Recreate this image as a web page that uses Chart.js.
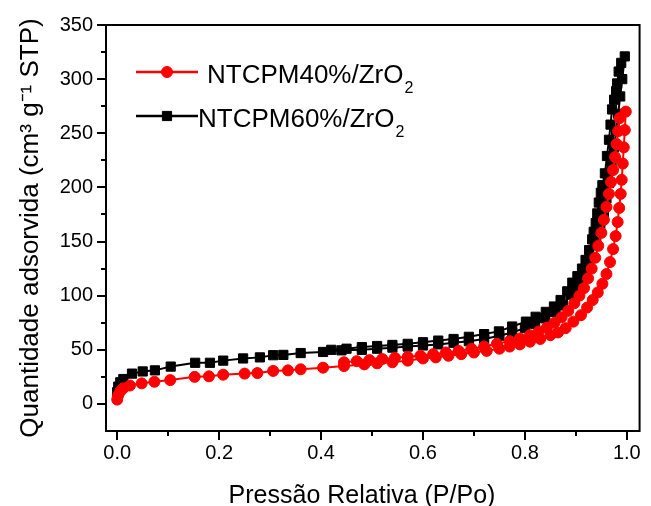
<!DOCTYPE html>
<html>
<head>
<meta charset="utf-8">
<script src="https://cdn.jsdelivr.net/npm/chart.js@4/dist/chart.umd.min.js"></script>
<style>
html,body{margin:0;padding:0;background:#ffffff;}
#wrap{width:651px;height:506px;position:relative;}
</style>
</head>
<body>
<div id="wrap"><canvas id="c" width="651" height="506"></canvas></div>
<script>
// ---- tick labels ----
const xTickValues = [0, 0.2, 0.4, 0.6, 0.8, 1.0];
const xTickLabels = ['0.0', '0.2', '0.4', '0.6', '0.8', '1.0'];
const xMinorTicks = [0.1, 0.3, 0.5, 0.7, 0.9];
const yTickValues = [0, 50, 100, 150, 200, 250, 300, 350];
const yTickLabels = ['0', '50', '100', '150', '200', '250', '300', '350'];
const yMinorTicks = [25, 75, 125, 175, 225, 275, 325];

// ---- series names ----
const seriesNames = ['NTCPM40%/ZrO', 'NTCPM60%/ZrO'];
const seriesSubscripts = ['2', '2'];
const xAxisTitle = 'Pressão Relativa (P/Po)';
const yAxisTitle = 'Quantidade adsorvida (cm³ g⁻¹ STP)';

// ---- NTCPM40%/ZrO2 (red): adsorption then desorption ----
const red40AdsX = [0,0.002,0.006,0.012,0.025,0.048,0.073,0.104,0.152,0.18,0.208,0.25,0.275,0.306,0.335,0.36,0.404,0.445,0.485,0.51,0.54,0.57,0.60,0.625,0.65,0.675,0.70,0.725,0.75,0.77,0.79,0.81,0.83,0.85,0.865,0.88,0.895,0.91,0.922,0.933,0.943,0.952,0.96,0.967,0.973,0.978,0.982,0.985,0.988,0.99,0.992,0.994,0.996,0.998];
const red40AdsY = [4,8,11.5,14.5,17,19,20.5,22,25,25.5,27,28,28.5,30.5,31,32,33.5,35,36.5,37.5,38.5,40,42,43,44.5,46,47.5,49,51,53,55,57.5,60,63.5,66,70,76,82,89,96,103,111,120,131,143,155,168,181,194,207,222,237,253,270];
const red40DesX = [0.986,0.983,0.98,0.977,0.973,0.969,0.965,0.96,0.955,0.95,0.944,0.938,0.931,0.924,0.916,0.907,0.897,0.885,0.872,0.858,0.843,0.827,0.81,0.79,0.77,0.745,0.72,0.695,0.67,0.645,0.62,0.595,0.57,0.545,0.52,0.495,0.47,0.445];
const red40DesY = [264,252,240,228,216,205,194,182,170,158,146,135,125,116,107,100,93,86,80,75,70.5,67,63.5,60.5,58,55.5,53,51,49,47.5,46,44.5,43.5,42.5,41.5,40.5,39.5,38.5];

// ---- NTCPM60%/ZrO2 (black): adsorption then desorption ----
const black60AdsX = [0,0.002,0.006,0.012,0.029,0.05,0.074,0.105,0.153,0.182,0.208,0.247,0.28,0.306,0.326,0.36,0.404,0.44,0.48,0.51,0.54,0.57,0.60,0.63,0.66,0.69,0.72,0.75,0.775,0.80,0.82,0.84,0.86,0.875,0.89,0.90,0.91,0.92,0.93,0.94,0.948,0.955,0.96,0.965,0.97,0.975,0.979,0.983,0.987,0.991,0.996];
const black60AdsY = [11,16,20,23,28,30,31,34.5,38,38,40,42,43,45,45.3,47,48,49.5,50,51,52,53,54,55,56.5,58,60,63,66,70,74,79,85,91,101,107,114,123,135,150,163,177,190,204,220,237,252,268,284,300,321];
const black60DesX = [0.989,0.984,0.981,0.979,0.975,0.971,0.968,0.965,0.961,0.957,0.952,0.949,0.945,0.942,0.939,0.935,0.932,0.926,0.919,0.912,0.903,0.893,0.883,0.870,0.857,0.841,0.821,0.802,0.775,0.749,0.72,0.69,0.66,0.63,0.60,0.57,0.54,0.51,0.48,0.45,0.42];
const black60DesY = [315,307,296,289,281,272,258,244,229,213,202,195,186,176,167,159,152,142,133,125,118,112,104,96,90,85,80.5,76,71.5,67,64.5,62,60,58.5,57,55.5,54.5,53.5,52.5,51,50];

function zip(xs, ys) { return xs.map((x, i) => ({ x: x, y: ys[i] })); }

const FONT = "'Liberation Sans', Arial, sans-serif";

const frameTicksPlugin = {
  id: 'frameTicks',
  afterDraw(chart) {
    const ctx = chart.ctx;
    const a = chart.chartArea;
    const xs = chart.scales.x, ys = chart.scales.y;
    ctx.save();
    ctx.strokeStyle = '#000';
    ctx.lineWidth = 2;
    ctx.strokeRect(a.left, a.top, a.right - a.left, a.bottom - a.top);
    ctx.beginPath();
    xTickValues.forEach(v => { const p = Math.round(xs.getPixelForValue(v)); ctx.moveTo(p, a.bottom); ctx.lineTo(p, a.bottom + 9); });
    xMinorTicks.forEach(v => { const p = Math.round(xs.getPixelForValue(v)); ctx.moveTo(p, a.bottom); ctx.lineTo(p, a.bottom + 5); });
    yTickValues.forEach(v => { const p = Math.round(ys.getPixelForValue(v)); ctx.moveTo(a.left, p); ctx.lineTo(a.left - 9, p); });
    yMinorTicks.forEach(v => { const p = Math.round(ys.getPixelForValue(v)); ctx.moveTo(a.left, p); ctx.lineTo(a.left - 5, p); });
    ctx.stroke();
    // x axis title
    ctx.fillStyle = '#000';
    ctx.font = '25px ' + FONT;
    ctx.textAlign = 'center';
    ctx.textBaseline = 'alphabetic';
    ctx.fillText(xAxisTitle, 362, 503);
    ctx.restore();
  }
};

const legendPlugin = {
  id: 'customLegend',
  afterDraw(chart) {
    const ctx = chart.ctx;
    const items = [
      { ds: chart.data.datasets[0], y: 72, textX: 207 },
      { ds: chart.data.datasets[1], y: 116, textX: 198 }
    ];
    ctx.save();
    items.forEach((it, i) => {
      const ds = it.ds;
      ctx.strokeStyle = ds.borderColor;
      ctx.lineWidth = 2.5;
      ctx.beginPath();
      ctx.moveTo(136, it.y);
      ctx.lineTo(198, it.y);
      ctx.stroke();
      ctx.fillStyle = ds.pointBackgroundColor;
      ctx.strokeStyle = ds.pointBorderColor;
      ctx.lineWidth = 1;
      Chart.helpers.drawPoint(ctx, {
        pointStyle: ds.pointStyle, radius: ds.pointRadius, borderWidth: 1
      }, 167, it.y);
      ctx.fillStyle = '#000';
      ctx.textAlign = 'left';
      ctx.textBaseline = 'alphabetic';
      ctx.font = '26px ' + FONT;
      ctx.fillText(seriesNames[i], it.textX, it.y + 11);
      const w = ctx.measureText(seriesNames[i]).width;
      ctx.font = '16px ' + FONT;
      ctx.fillText(seriesSubscripts[i], it.textX + w + 1, it.y + 21);
    });
    ctx.restore();
  }
};

const chart = new Chart(document.getElementById('c'), {
  type: 'scatter',
  data: {
    datasets: [
      {
        label: seriesNames[0] + '₂',
        data: zip(red40AdsX.concat(red40DesX), red40AdsY.concat(red40DesY)),
        showLine: true,
        borderColor: '#ff0000',
        backgroundColor: '#ff0000',
        pointBackgroundColor: '#ff0000',
        pointBorderColor: '#ff0000',
        pointStyle: 'circle',
        pointRadius: 5.5,
        pointBorderWidth: 1,
        borderWidth: 2,
        tension: 0
      },
      {
        label: seriesNames[1] + '₂',
        data: zip(black60AdsX.concat(black60DesX), black60AdsY.concat(black60DesY)),
        showLine: true,
        borderColor: '#000000',
        backgroundColor: '#000000',
        pointBackgroundColor: '#000000',
        pointBorderColor: '#000000',
        pointStyle: 'rect',
        pointRadius: 6.5,
        pointBorderWidth: 1,
        borderWidth: 2,
        tension: 0
      }
    ]
  },
  options: {
    responsive: false,
    animation: false,
    devicePixelRatio: 1,
    layout: { padding: { top: 25, right: 11, left: 0, bottom: 0 } },
    plugins: { legend: { display: false }, tooltip: { enabled: false } },
    scales: {
      x: {
        type: 'linear',
        min: -0.022,
        max: 1.025,
        afterBuildTicks: s => { s.ticks = xTickValues.map(v => ({ value: v })); },
        afterFit: s => { s.height = 75; },
        grid: { display: false, drawTicks: false },
        border: { display: false },
        ticks: {
          color: '#000',
          font: { family: FONT, size: 20 },
          padding: 10,
          maxRotation: 0,
          callback: (v) => { const i = xTickValues.findIndex(t => Math.abs(t - v) < 1e-9); return i >= 0 ? xTickLabels[i] : ''; }
        },
        title: { display: false, text: xAxisTitle }
      },
      y: {
        type: 'linear',
        min: -25,
        max: 350,
        afterBuildTicks: s => { s.ticks = yTickValues.map(v => ({ value: v })); },
        afterFit: s => { s.width = 106; },
        grid: { display: false, drawTicks: false },
        border: { display: false },
        ticks: {
          color: '#000',
          font: { family: FONT, size: 20 },
          padding: 13,
          callback: (v) => { const i = yTickValues.indexOf(v); return i >= 0 ? yTickLabels[i] : ''; }
        },
        title: {
          display: true,
          text: yAxisTitle,
          color: '#000',
          font: { family: FONT, size: 26 },
          padding: { top: 15, bottom: 0 }
        }
      }
    }
  },
  plugins: [frameTicksPlugin, legendPlugin]
});
</script>
</body>
</html>
